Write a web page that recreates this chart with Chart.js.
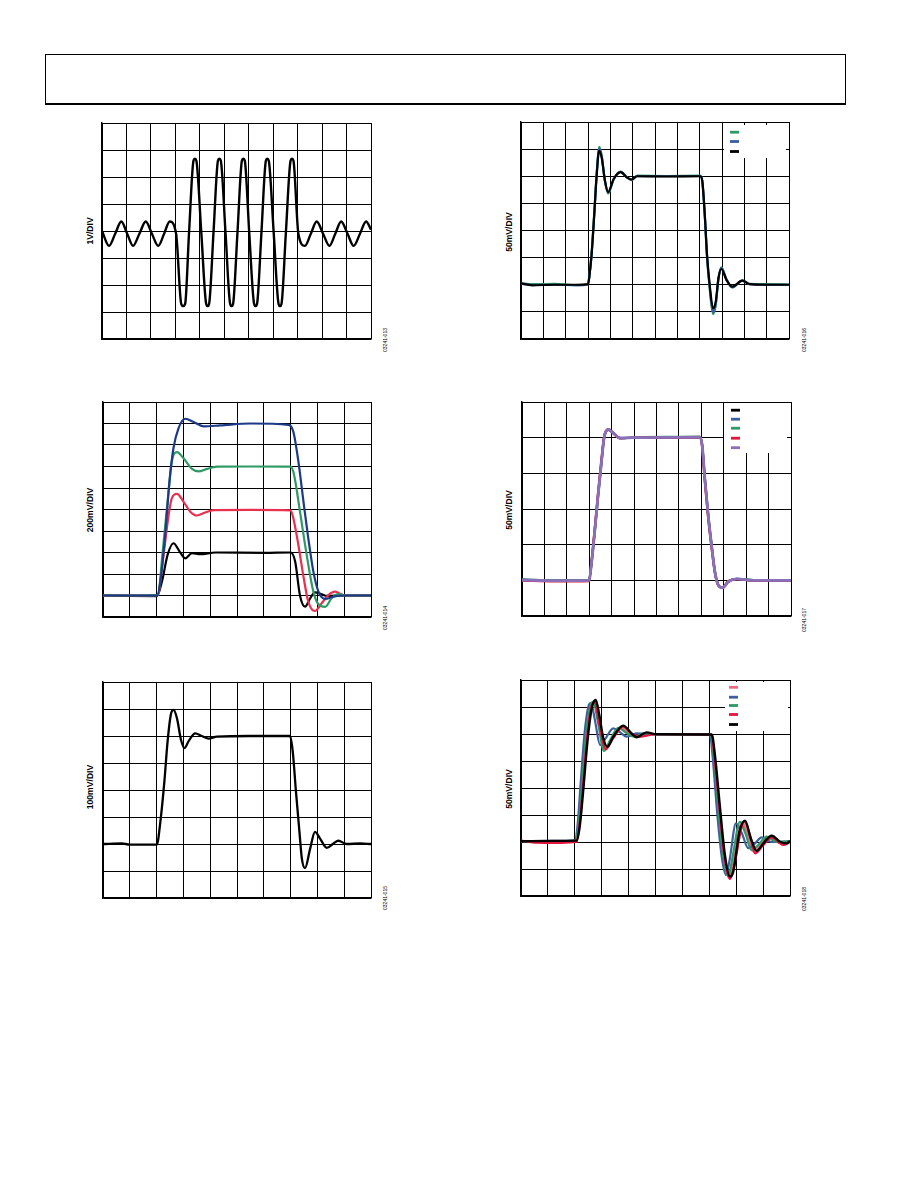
<!DOCTYPE html>
<html>
<head>
<meta charset="utf-8">
<script src="https://cdn.jsdelivr.net/npm/chart.js@4.4.1/dist/chart.umd.min.js"></script>
<style>
  body { margin: 0; background: #fff; }
  #page { position: relative; width: 918px; height: 1188px; overflow: hidden; }
  .hdr { position: absolute; left: 45px; top: 54px; width: 801px; height: 51px; box-sizing: border-box;
         border: 1.2px solid #000; border-bottom: 2.6px solid #000; }
  .scope { position: absolute; }
  .ylab, .code { position: absolute; white-space: nowrap; font-family: "Liberation Sans", Arial, sans-serif;
                 color: #000; transform: translate(-50%, -50%) rotate(-90deg); }
  .ylab { font-size: 8.6px; font-weight: bold; }
  .code { font-size: 5px; }
</style>
</head>
<body>
<div id="page">
  <div class="hdr"></div>
</div>
<script>
// ---- scope traces, x and y in divisions ----

// Fig 13 (11 x 8 div)
const c1X = [0, 0.29, 0.54, 0.79, 1.03, 1.27, 1.53, 1.79, 2.04, 2.30, 2.54, 2.77, 3.03,
  3.24, 3.32, 3.40, 3.56, 3.74, 3.80, 3.86, 4.06, 4.26, 4.32, 4.38, 4.56, 4.74, 4.80, 4.86,
  5.05, 5.24, 5.30, 5.36, 5.54, 5.72, 5.78, 5.84, 6.02, 6.22, 6.28, 6.34, 6.52, 6.70, 6.76, 6.82,
  7.02, 7.22, 7.28, 7.34, 7.52, 7.71, 7.77, 7.83, 8.03, 8.30, 8.54, 8.78, 9.04, 9.30, 9.54, 9.78,
  10.04, 10.29, 10.55, 10.80, 11.0];
const c1Y = [4.0, 3.45, 3.9, 4.35, 3.9, 3.45, 3.9, 4.35, 3.9, 3.45, 3.9, 4.35, 3.9,
  1.3, 1.22, 1.3, 3.95, 6.6, 6.68, 6.6, 3.95, 1.3, 1.22, 1.3, 3.95, 6.6, 6.68, 6.6,
  3.95, 1.3, 1.22, 1.3, 3.95, 6.6, 6.68, 6.6, 3.95, 1.3, 1.22, 1.3, 3.95, 6.6, 6.68, 6.6,
  3.95, 1.3, 1.22, 1.3, 3.95, 6.6, 6.68, 6.6, 3.9, 3.45, 3.9, 4.35, 3.9, 3.45, 3.9, 4.35,
  3.9, 3.45, 3.9, 4.35, 4.05];

// Fig 14 (10 x 10 div)
const c3BlackX = [0, 1.0, 2.01, 2.2, 2.41, 2.63, 2.86, 3.07, 3.32, 3.63, 4.2, 6.0, 7.0, 7.17, 7.35, 7.54, 7.73, 7.91, 8.16, 8.35, 9.0, 10];
const c3BlackY = [1.0, 0.98, 0.97, 1.65, 2.89, 3.43, 3.04, 2.73, 2.97, 2.92, 3.0, 2.98, 3.0, 2.58, 1.0, 0.48, 0.87, 1.15, 1.06, 0.98, 1.0, 1.0];
const c3RedX = [0, 1.0, 2.04, 2.26, 2.45, 2.57, 2.76, 3.0, 3.25, 3.5, 3.81, 4.12, 5.5, 7.0, 7.1, 7.29, 7.48, 7.66, 7.91, 8.16, 8.41, 8.66, 8.97, 9.5, 10];
const c3RedY = [1.0, 1.0, 1.02, 2.89, 4.75, 5.53, 5.73, 5.37, 4.91, 4.72, 4.86, 4.97, 4.98, 4.96, 4.6, 3.35, 1.88, 0.71, 0.28, 0.64, 1.02, 1.18, 1.02, 1.0, 1.0];
const c3GreenX = [0, 1.0, 2.04, 2.24, 2.41, 2.57, 2.76, 3.0, 3.32, 3.57, 3.88, 4.25, 5.5, 7.0, 7.13, 7.35, 7.6, 7.85, 8.04, 8.29, 8.53, 8.78, 9.09, 10];
const c3GreenY = [1.0, 1.0, 1.02, 3.2, 5.37, 7.24, 7.67, 7.39, 6.89, 6.77, 6.89, 6.99, 7.0, 6.99, 6.61, 4.9, 2.89, 1.18, 0.59, 0.47, 0.87, 1.06, 1.0, 1.0];
const c3BlueX = [0, 1.0, 2.02, 2.14, 2.32, 2.48, 2.63, 2.82, 3.07, 3.38, 3.75, 4.37, 5.5, 6.92, 7.1, 7.29, 7.48, 7.66, 7.85, 8.04, 8.29, 8.6, 8.97, 10];
const c3BlueY = [1.0, 1.0, 1.0, 1.65, 3.82, 6.3, 7.86, 8.79, 9.22, 9.07, 8.87, 8.91, 9.0, 8.94, 8.63, 7.24, 5.37, 3.66, 2.11, 1.18, 0.84, 0.95, 1.0, 1.0];

// Fig 15 (10 x 8 div)
const c5X = [0, 0.7, 1.0, 2.01, 2.14, 2.29, 2.41, 2.53, 2.63, 2.76, 2.91, 3.04, 3.19, 3.44, 3.69, 3.94, 4.25,
  5.5, 6.98, 7.08, 7.2, 7.33, 7.42, 7.54, 7.73, 7.91, 8.1, 8.35, 8.6, 8.78, 9.09, 9.6, 10];
const c5Y = [2.0, 2.02, 1.98, 1.98, 2.82, 4.31, 5.8, 6.79, 6.97, 6.66, 5.86, 5.55, 5.8, 6.1, 6.0, 5.9, 5.98,
  6.0, 6.0, 5.42, 3.94, 2.45, 1.46, 1.11, 1.83, 2.45, 2.2, 1.86, 2.02, 2.12, 2.0, 2.02, 2.0];

// Fig 16 (12 x 8 div)
const c2X = [0, 0.5, 1.5, 2.5, 3.0, 3.06, 3.16, 3.28, 3.38, 3.5, 3.61, 3.76, 3.9, 4.15, 4.46, 4.75, 4.95, 5.2,
  6.5, 8.03, 8.12, 8.23, 8.33, 8.45, 8.6, 8.72, 8.84, 8.97, 9.2, 9.46, 9.91, 10.24, 11, 12];
const c2Green = [2.06, 2.02, 2.03, 1.99, 2.02, 2.32, 3.15, 4.65, 6.0, 7.08, 6.78, 5.8, 5.36, 5.88, 6.17, 5.96, 5.86, 6.02,
  6.01, 6.02, 5.8, 4.52, 3.0, 1.85, 0.92, 1.25, 2.2, 2.64, 2.2, 1.9, 2.16, 2.03, 2.02, 2.01];
const c2Blue = [2.04, 1.99, 2.0, 1.98, 2.01, 2.31, 3.12, 4.6, 5.96, 7.02, 6.74, 5.82, 5.39, 5.89, 6.16, 5.95, 5.87, 6.0,
  6.0, 6.01, 5.8, 4.55, 3.05, 1.9, 0.98, 1.3, 2.22, 2.62, 2.19, 1.91, 2.15, 2.02, 2.0, 2.0];
const c2Black = [2.05, 1.98, 2.0, 2.0, 2.02, 2.3, 3.1, 4.58, 5.93, 6.94, 6.7, 5.84, 5.42, 5.9, 6.15, 5.95, 5.88, 6.0,
  5.99, 6.0, 5.81, 4.58, 3.1, 1.99, 1.13, 1.38, 2.24, 2.58, 2.18, 1.93, 2.15, 2.02, 2.0, 2.0];

// Fig 17 (12 x 6 div)
const c4X = [0, 1.5, 2.99, 3.11, 3.26, 3.4, 3.55, 3.66, 3.85, 4.07, 4.37, 4.97, 6.5, 7.94, 8.04, 8.16, 8.31, 8.46, 8.61, 8.76, 8.95, 9.2, 9.58, 10.32, 12];
const c4Black = [1.02, 0.99, 1.0, 1.52, 2.45, 3.39, 4.32, 4.97, 5.23, 5.14, 4.99, 4.99, 5.01, 5.02, 4.79, 3.85, 2.83, 1.99, 1.24, 0.87, 0.79, 0.96, 1.04, 1.0, 1.0];
const c4Blue = [1.01, 1.0, 1.0, 1.55, 2.5, 3.44, 4.36, 4.99, 5.22, 5.13, 4.99, 5.0, 5.0, 5.01, 4.76, 3.8, 2.78, 1.95, 1.22, 0.86, 0.8, 0.97, 1.03, 1.0, 1.01];
const c4Green = [1.02, 1.0, 1.01, 1.56, 2.52, 3.45, 4.38, 5.0, 5.22, 5.13, 4.98, 5.01, 5.02, 5.02, 4.76, 3.8, 2.77, 1.94, 1.21, 0.86, 0.8, 0.97, 1.04, 1.01, 1.0];
const c4Red = [0.99, 0.97, 0.98, 1.6, 2.58, 3.52, 4.45, 5.03, 5.24, 5.12, 4.98, 5.0, 5.01, 5.0, 4.7, 3.72, 2.7, 1.88, 1.18, 0.85, 0.8, 0.98, 1.03, 0.99, 1.0];
const c4Purple = [1.01, 0.99, 1.0, 1.54, 2.48, 3.42, 4.35, 4.98, 5.23, 5.13, 4.99, 5.0, 5.01, 5.01, 4.77, 3.82, 2.8, 1.96, 1.22, 0.86, 0.79, 0.96, 1.04, 1.0, 1.0];

// Fig 18 (10 x 8 div)
const c6PinkX = [0, 1.2, 2.04, 2.15, 2.28, 2.43, 2.58, 2.72, 2.88, 3.12, 3.35, 3.7, 4.0, 4.3, 5.0, 7.06, 7.18, 7.37, 7.55, 7.74, 7.87, 8.22, 8.42, 8.64, 8.9, 9.22, 9.6, 10];
const c6PinkY = [2.03, 2.03, 2.05, 2.6, 4.05, 5.85, 7.0, 7.18, 6.45, 5.4, 5.78, 6.25, 6.03, 5.9, 5.99, 5.98, 5.12, 3.15, 1.42, 0.68, 1.1, 2.74, 2.3, 1.64, 1.88, 2.18, 1.97, 2.02];
const c6BlueX = [0, 1.2, 2.0, 2.1, 2.22, 2.36, 2.5, 2.6, 2.75, 2.94, 3.12, 3.43, 3.7, 3.93, 4.3, 5.0, 7.02, 7.13, 7.3, 7.47, 7.62, 7.75, 7.99, 8.2, 8.45, 8.7, 8.95, 9.3, 10];
const c6BlueY = [2.03, 2.04, 2.05, 2.6, 4.2, 6.0, 7.0, 7.14, 6.5, 5.59, 5.8, 6.21, 6.05, 5.9, 6.02, 5.99, 5.98, 5.1, 3.0, 1.4, 0.78, 1.3, 2.69, 2.35, 1.77, 1.95, 2.17, 2.0, 2.02];
const c6GreenX = [0, 1.2, 2.03, 2.14, 2.27, 2.41, 2.57, 2.69, 2.85, 3.09, 3.3, 3.62, 3.9, 4.2, 4.6, 5.0, 7.05, 7.17, 7.35, 7.53, 7.71, 7.84, 8.14, 8.35, 8.57, 8.83, 9.13, 9.5, 10];
const c6GreenY = [2.02, 2.03, 2.05, 2.6, 4.1, 5.9, 7.0, 7.2, 6.5, 5.37, 5.75, 6.23, 6.05, 5.9, 6.03, 5.99, 5.98, 5.1, 3.1, 1.4, 0.72, 1.3, 2.75, 2.3, 1.7, 1.9, 2.2, 2.0, 2.02];
const c6RedX = [0, 0.5, 1.5, 2.05, 2.17, 2.3, 2.45, 2.6, 2.75, 2.9, 3.16, 3.4, 3.8, 4.1, 4.4, 5.0, 7.07, 7.19, 7.38, 7.56, 7.77, 7.9, 8.3, 8.5, 8.7, 8.98, 9.32, 9.75, 10];
const c6RedY = [2.05, 1.98, 1.97, 2.0, 2.6, 4.0, 5.8, 6.95, 7.17, 6.4, 5.44, 5.8, 6.27, 6.02, 5.9, 5.99, 5.98, 5.15, 3.2, 1.45, 0.63, 1.0, 2.75, 2.3, 1.58, 1.85, 2.17, 1.89, 2.0];
const c6BlackX = [0, 1.2, 2.07, 2.19, 2.32, 2.47, 2.63, 2.78, 2.91, 3.06, 3.21, 3.43, 3.8, 4.11, 4.3, 4.67, 5.04, 7.09, 7.21, 7.4, 7.58, 7.77, 7.89, 8.12, 8.33, 8.54, 8.76, 9.01, 9.32, 9.63, 9.88, 10];
const c6BlackY = [2.03, 2.04, 2.05, 2.63, 3.99, 5.72, 6.95, 7.26, 6.7, 5.84, 5.53, 5.9, 6.31, 6.02, 5.88, 6.06, 5.99, 5.98, 5.22, 3.25, 1.52, 0.72, 0.9, 2.38, 2.79, 2.14, 1.67, 1.95, 2.23, 2.01, 1.95, 2.04];

const BLACK = '#000000', BLUE = '#3b5f9f', NAVY = '#1c3a88', GREEN = '#2f9a64',
      RED = '#e3153f', PINK = '#ea6a82', PURPLE = '#8a70b8', RED3 = '#e8304f';

function pts(xs, ys) {
  return xs.map(function(x, i) { return { x: x, y: ys[i] }; });
}

// white key box with colour swatches, drawn over the graticule
const scopeKey = {
  id: 'scopeKey',
  afterDraw(chart, args, opts) {
    if (!opts.ys) return;
    const ctx = chart.ctx, a = chart.chartArea;
    ctx.save();
    ctx.fillStyle = '#fff';
    ctx.fillRect(a.left + opts.box[0], a.top + opts.box[1], opts.box[2] - opts.box[0], opts.box[3] - opts.box[1]);
    chart.data.datasets.forEach(function(ds, i) {
      ctx.fillStyle = ds.borderColor;
      ctx.fillRect(a.left + opts.sx, a.top + opts.ys[i] - 1.4, 9, 2.8);
    });
    ctx.restore();
  }
};

function makeScope(box, divs, datasets, label, code, labelPos, codePos, key) {
  const page = document.getElementById('page');
  const pad = 3;
  const wrap = document.createElement('div');
  wrap.className = 'scope';
  wrap.style.left = (box[0] - pad) + 'px';
  wrap.style.top = (box[1] - pad) + 'px';
  const cv = document.createElement('canvas');
  cv.width = box[2] + pad * 2;
  cv.height = box[3] + pad * 2;
  cv.style.width = cv.width + 'px';
  cv.style.height = cv.height + 'px';
  wrap.appendChild(cv);
  page.appendChild(wrap);

  const axis = function(max) {
    return {
      type: 'linear', min: 0, max: max,
      ticks: { display: false, stepSize: 1 },
      grid: { color: '#000', lineWidth: 1, drawTicks: false },
      border: { color: '#000', width: 1.4 }
    };
  };

  const n = datasets.length;
  new Chart(cv, {
    type: 'line',
    data: {
      // later traces sit on top, as on the scope screen
      datasets: datasets.map(function(d, i) {
        return {
          data: d.data, borderColor: d.color, borderWidth: d.width || 2.2, order: n - i,
          pointRadius: 0, fill: false, cubicInterpolationMode: 'monotone'
        };
      })
    },
    options: {
      responsive: false, animation: false, devicePixelRatio: 1,
      layout: { padding: pad },
      scales: { x: axis(divs[0]), y: axis(divs[1]) },
      plugins: { legend: { display: false }, tooltip: { enabled: false }, scopeKey: key || {} }
    },
    plugins: [scopeKey]
  });

  const yl = document.createElement('div');
  yl.className = 'ylab';
  yl.textContent = label;
  yl.style.left = labelPos[0] + 'px';
  yl.style.top = labelPos[1] + 'px';
  page.appendChild(yl);

  const cd = document.createElement('div');
  cd.className = 'code';
  cd.textContent = code;
  cd.style.left = codePos[0] + 'px';
  cd.style.top = codePos[1] + 'px';
  page.appendChild(cd);
}

makeScope([102, 123, 269, 216], [11, 8],
  [{ data: pts(c1X, c1Y), color: BLACK, width: 2.4 }],
  '1V/DIV', '03241-013', [90, 231], [385, 340]);

makeScope([103, 402, 268, 215], [10, 10],
  [{ data: pts(c3BlackX, c3BlackY), color: BLACK },
   { data: pts(c3RedX, c3RedY), color: RED3 },
   { data: pts(c3GreenX, c3GreenY), color: GREEN },
   { data: pts(c3BlueX, c3BlueY), color: NAVY }],
  '200mV/DIV', '03241-014', [90, 510], [385, 618]);

makeScope([103, 682, 268, 216], [10, 8],
  [{ data: pts(c5X, c5Y), color: BLACK, width: 2.3 }],
  '100mV/DIV', '03241-015', [90, 787], [385, 898]);

makeScope([521, 122, 268, 217], [12, 8],
  [{ data: pts(c2X, c2Green), color: GREEN },
   { data: pts(c2X, c2Blue), color: BLUE },
   { data: pts(c2X, c2Black), color: BLACK }],
  '50mV/DIV', '03241-016', [509, 232], [804, 340],
  { box: [203, 3, 265, 36], sx: 209, ys: [10.2, 19.5, 29.5] });

makeScope([522, 402, 269, 214], [12, 6],
  [{ data: pts(c4X, c4Black), color: BLACK },
   { data: pts(c4X, c4Blue), color: BLUE },
   { data: pts(c4X, c4Green), color: GREEN },
   { data: pts(c4X, c4Red), color: RED },
   { data: pts(c4X, c4Purple), color: PURPLE, width: 2.8 }],
  '50mV/DIV', '03241-017', [509, 510], [804, 620],
  { box: [202, 1, 265, 51], sx: 209, ys: [8.2, 17.2, 26.2, 36.2, 45.7] });

makeScope([521, 680, 269, 216], [10, 8],
  [{ data: pts(c6PinkX, c6PinkY), color: PINK },
   { data: pts(c6BlueX, c6BlueY), color: BLUE },
   { data: pts(c6GreenX, c6GreenY), color: GREEN },
   { data: pts(c6RedX, c6RedY), color: RED },
   { data: pts(c6BlackX, c6BlackY), color: BLACK, width: 2.4 }],
  '50mV/DIV', '03241-018', [509, 789], [804, 899],
  { box: [204, 2, 267, 51], sx: 208, ys: [7.3, 17.2, 25.5, 34.5, 44.5] });
</script>
</body>
</html>
